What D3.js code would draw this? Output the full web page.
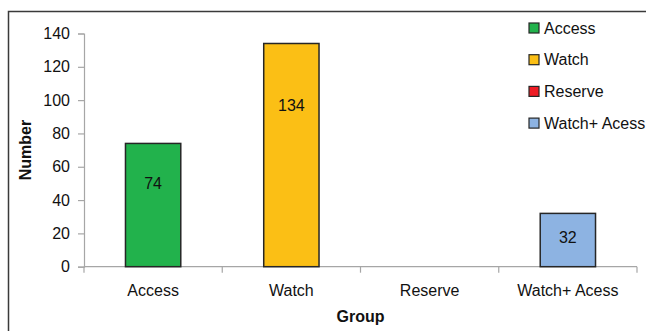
<!DOCTYPE html>
<html>
<head>
<meta charset="utf-8">
<script src="https://cdn.jsdelivr.net/npm/d3@7"></script>
<style>
  body { margin: 0; background: #fff; }
  svg { display: block; font-family: "Liberation Sans", Arial, sans-serif; }
</style>
</head>
<body>
<svg id="chart"></svg>
<script>
// data
let groups = ['Access', 'Watch', 'Reserve', 'Watch+ Acess'];
let counts = [74, 134, 0, 32];
let colors = ['#22b24c', '#fbbf15', '#ee1c24', '#8db3e2'];
let yTicks = [0, 20, 40, 60, 80, 100, 120, 140];

let width = 646, height = 331;
let margin = {left: 84, right: 9, top: 33.5, bottom: 64.3};
let fs = 16;

let svg = d3.select('#chart').attr('width', width).attr('height', height);

// outer frame (right and bottom edges sit outside the picture)
svg.append('path')
    .attr('d', `M8.5,${height + 2} V11.5 H${width + 2}`)
    .attr('fill', 'none')
    .attr('stroke', '#3a3a3a')
    .attr('stroke-width', 1.5);

let x = d3.scaleBand()
    .domain(groups)
    .range([margin.left, width - margin.right])
    .paddingInner(0.6)
    .paddingOuter(0.3);

let y = d3.scaleLinear()
    .domain([0, 140])
    .range([height - margin.bottom, margin.top]);

// y axis
let yAxis = svg.append('g')
    .attr('transform', `translate(${margin.left},0)`)
    .call(d3.axisLeft(y).tickValues(yTicks).tickSize(6).tickPadding(8));
yAxis.selectAll('text').attr('font-size', fs).attr('fill', '#111').attr('font-family', null);
yAxis.selectAll('line, path').attr('stroke', '#a6a6a6').attr('stroke-width', 1.2);

// x axis with ticks between categories
let xBounds = groups.map(g => x(g) - x.step() * x.paddingInner() / 2);
xBounds.push(width - margin.right);
let xAxis = svg.append('g')
    .attr('transform', `translate(0,${y(0)})`);
xAxis.append('line')
    .attr('x1', margin.left).attr('x2', width - margin.right)
    .attr('stroke', '#a6a6a6').attr('stroke-width', 1.2);
xAxis.selectAll('line.tick')
    .data(xBounds)
    .join('line')
    .attr('class', 'tick')
    .attr('x1', d => d).attr('x2', d => d)
    .attr('y1', 0).attr('y2', 6)
    .attr('stroke', '#a6a6a6').attr('stroke-width', 1.2);
xAxis.selectAll('text')
    .data(groups)
    .join('text')
    .attr('x', d => x(d) + x.bandwidth() / 2)
    .attr('y', 29)
    .attr('text-anchor', 'middle')
    .attr('font-size', fs)
    .attr('fill', '#111')
    .text(d => d);

// bars
svg.append('g')
    .selectAll('rect')
    .data(groups.map((g, i) => ({g, v: counts[i], c: colors[i]})).filter(d => d.v > 0))
    .join('rect')
    .attr('x', d => x(d.g))
    .attr('y', d => y(d.v))
    .attr('width', x.bandwidth())
    .attr('height', d => y(0) - y(d.v))
    .attr('fill', d => d.c)
    .attr('stroke', '#262626')
    .attr('stroke-width', 1.5);

// value labels, placed inside the bar below its top
svg.append('g')
    .selectAll('text')
    .data(groups.map((g, i) => ({g, v: counts[i]})).filter(d => d.v > 0))
    .join('text')
    .attr('x', d => x(d.g) + x.bandwidth() / 2)
    .attr('y', d => y(d.v * 0.78 - 7.5))
    .attr('dy', '0.35em')
    .attr('text-anchor', 'middle')
    .attr('font-size', fs)
    .attr('fill', '#111')
    .text(d => d.v);

// axis titles
svg.append('text')
    .attr('x', (margin.left + width - margin.right) / 2)
    .attr('y', 322)
    .attr('text-anchor', 'middle')
    .attr('font-size', fs)
    .attr('font-weight', 'bold')
    .attr('fill', '#111')
    .text('Group');

svg.append('text')
    .attr('transform', `translate(31,${(y(0) + y(140)) / 2}) rotate(-90)`)
    .attr('text-anchor', 'middle')
    .attr('font-size', fs)
    .attr('font-weight', 'bold')
    .attr('fill', '#111')
    .text('Number');

// legend
let legend = svg.append('g')
    .selectAll('g')
    .data(groups)
    .join('g')
    .attr('transform', (d, i) => `translate(529,${28 + i * 31.7})`);
legend.append('rect')
    .attr('x', 0).attr('y', -5)
    .attr('width', 10).attr('height', 10)
    .attr('fill', (d, i) => colors[i])
    .attr('stroke', '#262626')
    .attr('stroke-width', 1.2);
legend.append('text')
    .attr('x', 15)
    .attr('dy', '0.36em')
    .attr('font-size', fs)
    .attr('fill', '#111')
    .text(d => d);
</script>
</body>
</html>
